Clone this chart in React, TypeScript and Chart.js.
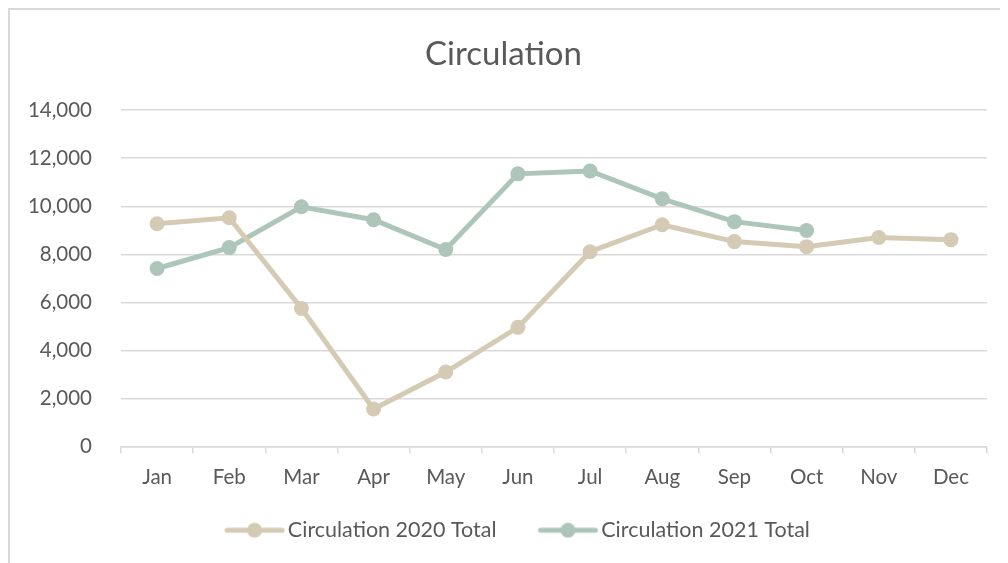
import React, { useEffect, useRef } from "react";
import { Chart, registerables } from "chart.js";

Chart.register(...registerables);

const months = ["Jan", "Feb", "Mar", "Apr", "May", "Jun", "Jul", "Aug", "Sep", "Oct", "Nov", "Dec"];
const circulation2020 = [9270, 9520, 5750, 1560, 3100, 4960, 8110, 9230, 8530, 8320, 8700, 8610];
const circulation2021 = [7410, 8280, 9980, 9440, 8200, 11350, 11470, 10310, 9360, 8990, null, null];
const seriesLabels = ["Circulation 2020 Total", "Circulation 2021 Total"];
const seriesColors = ["#D5CBB5", "#AEC6B9"];
const yTicks = [0, 2000, 4000, 6000, 8000, 10000, 12000, 14000];

const FONT = "Lato, 'Open Sans', sans-serif";
const TEXT = "#595959";
const GRID = "#D9D9D9";

function legendImage(color: string): HTMLCanvasElement {
  const c = document.createElement("canvas");
  c.width = 100;
  c.height = 18;
  const ctx = c.getContext("2d")!;
  ctx.strokeStyle = color;
  ctx.lineWidth = 5;
  ctx.lineCap = "round";
  ctx.beginPath();
  ctx.moveTo(40, 9);
  ctx.lineTo(95, 9);
  ctx.stroke();
  ctx.fillStyle = color;
  ctx.beginPath();
  ctx.arc(67.5, 9, 7.5, 0, Math.PI * 2);
  ctx.fill();
  return c;
}

export default function App() {
  const ref = useRef<HTMLCanvasElement | null>(null);
  useEffect(() => {
    if (!ref.current) return;
    const data = [circulation2020, circulation2021];
    const chart = new Chart(ref.current, {
      type: "line",
      data: {
        labels: months,
        datasets: data.map((d, i) => ({
          label: seriesLabels[i],
          data: d,
          borderColor: seriesColors[i],
          backgroundColor: seriesColors[i],
          pointBackgroundColor: seriesColors[i],
          pointBorderWidth: 0,
          pointRadius: 7.5,
          pointStyle: "circle",
          borderWidth: 5,
          tension: 0,
        })),
      },
      options: {
        animation: false,
        responsive: false,
        layout: { padding: { top: 25, left: 10, right: 21, bottom: 12 } },
        plugins: {
          title: {
            display: true,
            text: "Circulation",
            color: TEXT,
            font: { family: FONT, size: 33, weight: "normal" },
            padding: { top: 0, bottom: 35.6 },
          },
          legend: {
            position: "bottom",
            labels: {
              color: TEXT,
              font: { family: FONT, size: 21.5 },
              usePointStyle: true,
              pointStyleWidth: 80,
              boxHeight: 18,
              padding: 14,
              generateLabels: (ch: any) =>
                ch.data.datasets.map((ds: any, i: number) => ({
                  text: ds.label,
                  fillStyle: ds.borderColor,
                  strokeStyle: ds.borderColor,
                  lineWidth: 0,
                  pointStyle: legendImage(ds.borderColor),
                  fontColor: TEXT,
                  datasetIndex: i,
                  hidden: false,
                })),
            },
          },
          tooltip: { enabled: false },
        },
        scales: {
          x: {
            offset: true,
            grid: {
              offset: true,
              drawOnChartArea: false,
              drawTicks: true,
              tickLength: 7,
              color: GRID,
              lineWidth: 1.5,
            },
            border: { display: true, color: GRID, width: 1.5 },
            ticks: {
              color: TEXT,
              font: { family: FONT, size: 20.5 },
              padding: 12,
              maxRotation: 0,
              autoSkip: false,
            },
            afterFit: (s: any) => {
              s.height = 59;
            },
          },
          y: {
            min: 0,
            max: 14000,
            afterBuildTicks: (s: any) => {
              s.ticks = yTicks.map((v) => ({ value: v }));
            },
            grid: { drawTicks: false, color: GRID, lineWidth: 1.5 },
            border: { display: false },
            ticks: {
              color: TEXT,
              font: { family: FONT, size: 20.5 },
              padding: 29,
              callback: (v: any) => Number(v).toLocaleString("en-US"),
            },
            afterFit: (s: any) => {
              s.width = 101;
            },
          },
        },
      },
    });
    return () => chart.destroy();
  }, []);

  return (
    <div
      style={{
        width: 1000,
        height: 555,
        borderTop: "2px solid #D9D9D9",
        borderLeft: "2px solid #D9D9D9",
        boxSizing: "border-box",
        overflow: "hidden",
      }}
    >
      <canvas ref={ref} width={998} height={553} style={{ display: "block" }} />
    </div>
  );
}
